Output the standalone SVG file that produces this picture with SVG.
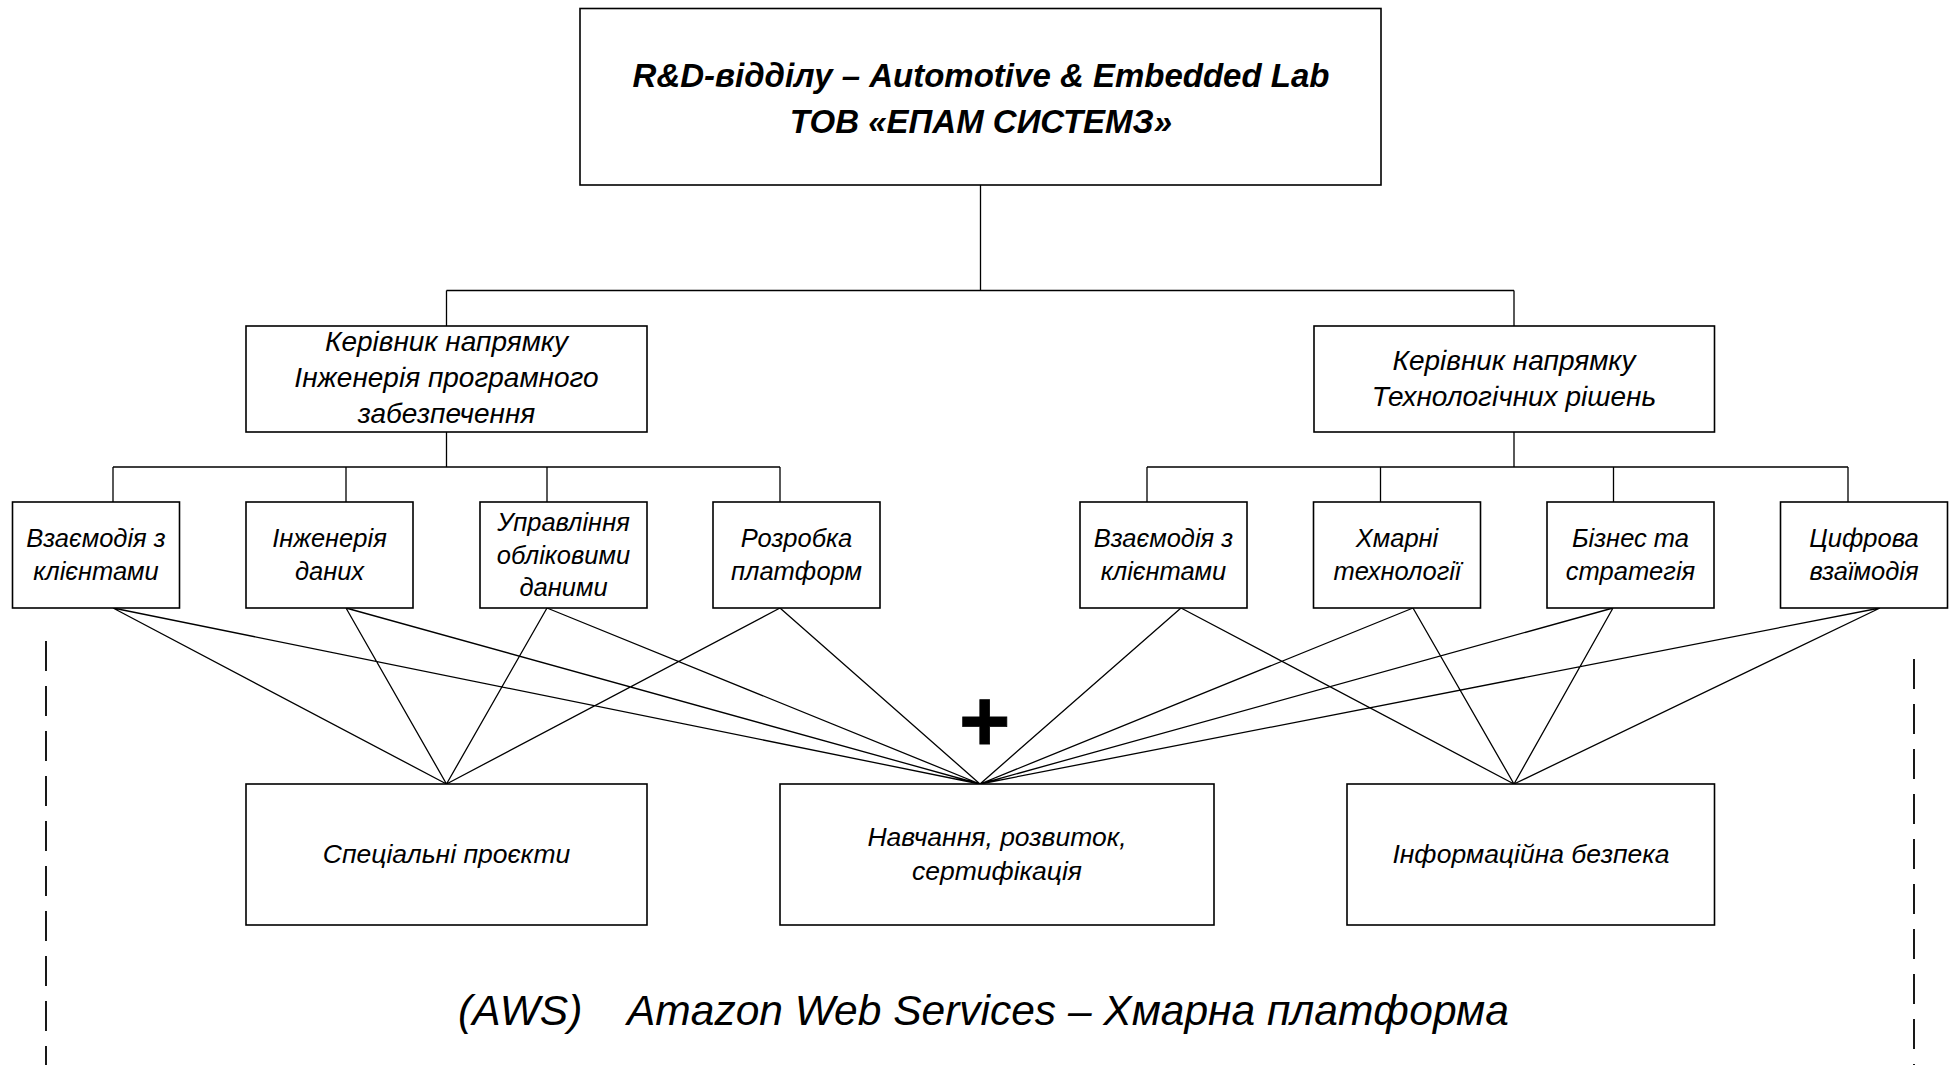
<svg xmlns="http://www.w3.org/2000/svg" width="1950" height="1065" viewBox="0 0 1950 1065">
<style>
.box{fill:#fff;stroke:#000;stroke-width:1.6}
.ln{fill:none;stroke:#000;stroke-width:1.3}
.dash{fill:none;stroke:#000;stroke-width:1.8;stroke-dasharray:30 15}
text{font-family:"Liberation Sans",Arial,sans-serif;font-style:italic;fill:#000;text-anchor:middle}
.t1{font-size:33px;font-weight:bold}
.t2{font-size:28px}
.t3{font-size:25.5px}
.t4{font-size:26.5px}
.t5{font-size:42.5px;text-anchor:start}
.plus{font-size:88px;font-weight:bold;font-style:normal;stroke:#000;stroke-width:0.8}
</style>
<rect width="1950" height="1065" fill="#fff"/>
<g id="connectors">
<path class="ln" d="M980.5 185V290.5M446.5 290.5H1514M446.5 290.5V326M1514 290.5V326"/>
<path class="ln" d="M446.5 432V467M113 467H780M113 467V502M346 467V502M547 467V502M780 467V502"/>
<path class="ln" d="M1514 432V467M1147 467H1848M1147 467V502M1380.5 467V502M1613.5 467V502M1848 467V502"/>
<path class="ln" d="M113 608L446.5 784M113 608L980 784M346 608L446.5 784M346 608L980 784M547 608L446.5 784M547 608L980 784M780 608L446.5 784M780 608L980 784"/>
<path class="ln" d="M1181 608L980 784M1181 608L1514 784M1413 608L980 784M1413 608L1514 784M1613 608L980 784M1613 608L1514 784M1880 608L980 784M1880 608L1514 784"/>
</g>
<g id="top">
<rect class="box" x="580" y="8.5" width="801" height="176.5"/>
<text class="t1" x="981" y="86.5">R&amp;D-відділу – Automotive &amp; Embedded Lab</text>
<text class="t1" x="981" y="133">ТОВ «ЕПАМ СИСТЕМЗ»</text>
</g>
<g id="head-left">
<rect class="box" x="246" y="326" width="401" height="106"/>
<text class="t2" x="446.5" y="351">Керівник напрямку</text>
<text class="t2" x="446.5" y="387">Інженерія програмного</text>
<text class="t2" x="446.5" y="423">забезпечення</text>
</g>
<g id="head-right">
<rect class="box" x="1314" y="326" width="400.5" height="106"/>
<text class="t2" x="1514" y="370">Керівник напрямку</text>
<text class="t2" x="1514" y="405.5">Технологічних рішень</text>
</g>
<g id="l3-1">
<rect class="box" x="12.5" y="502" width="167" height="106"/>
<text class="t3" x="96" y="547">Взаємодія з</text>
<text class="t3" x="96" y="580">клієнтами</text>
</g>
<g id="l3-2">
<rect class="box" x="246" y="502" width="167" height="106"/>
<text class="t3" x="329.5" y="547">Інженерія</text>
<text class="t3" x="329.5" y="580">даних</text>
</g>
<g id="l3-3">
<rect class="box" x="480" y="502" width="167" height="106"/>
<text class="t3" x="563.5" y="531">Управління</text>
<text class="t3" x="563.5" y="563.5">обліковими</text>
<text class="t3" x="563.5" y="596">даними</text>
</g>
<g id="l3-4">
<rect class="box" x="713" y="502" width="167" height="106"/>
<text class="t3" x="796.5" y="547">Розробка</text>
<text class="t3" x="796.5" y="580">платформ</text>
</g>
<g id="l3-5">
<rect class="box" x="1080" y="502" width="167" height="106"/>
<text class="t3" x="1163.5" y="547">Взаємодія з</text>
<text class="t3" x="1163.5" y="580">клієнтами</text>
</g>
<g id="l3-6">
<rect class="box" x="1313.5" y="502" width="167" height="106"/>
<text class="t3" x="1397" y="547">Хмарні</text>
<text class="t3" x="1397" y="580">технології</text>
</g>
<g id="l3-7">
<rect class="box" x="1547" y="502" width="167" height="106"/>
<text class="t3" x="1630.5" y="547">Бізнес та</text>
<text class="t3" x="1630.5" y="580">стратегія</text>
</g>
<g id="l3-8">
<rect class="box" x="1780.5" y="502" width="167" height="106"/>
<text class="t3" x="1864" y="547">Цифрова</text>
<text class="t3" x="1864" y="580">взаїмодія</text>
</g>
<g id="bottom-a">
<rect class="box" x="246" y="784" width="401" height="141"/>
<text class="t4" x="446.5" y="863">Спеціальні проєкти</text>
</g>
<g id="bottom-b">
<rect class="box" x="780" y="784" width="434" height="141"/>
<text class="t4" x="997" y="846">Навчання, розвиток,</text>
<text class="t4" x="997" y="880">сертифікація</text>
</g>
<g id="bottom-c">
<rect class="box" x="1347" y="784" width="367.5" height="141"/>
<text class="t4" x="1531" y="863">Інформаційна безпека</text>
</g>
<g id="plus">
<text class="plus" x="984.7" y="751">+</text>
</g>
<g id="platform">
<path class="dash" d="M46 641V1065M1914 659V1065"/>
<text class="t5" y="1025"><tspan x="458">(AWS)</tspan><tspan x="627">Amazon Web Services – Хмарна платформа</tspan></text>
</g>
</svg>
